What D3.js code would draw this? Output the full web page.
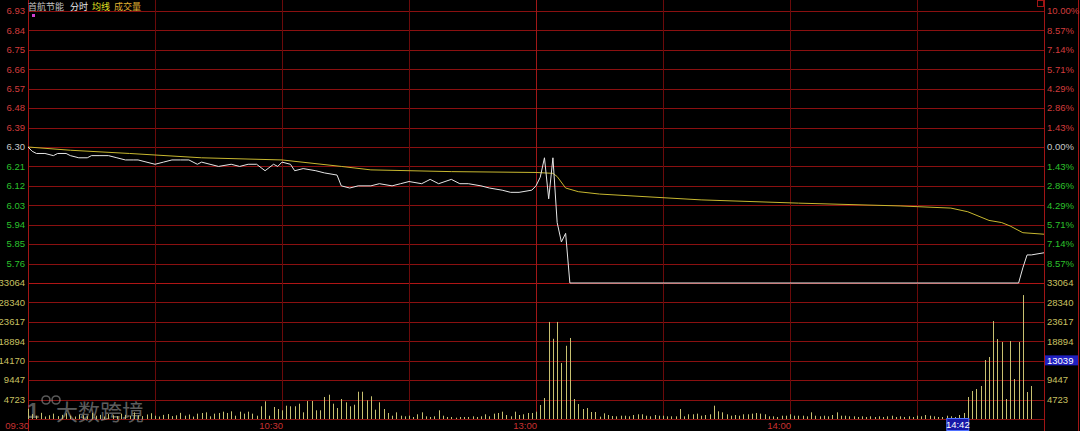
<!DOCTYPE html>
<html>
<head>
<meta charset="utf-8">
<script src="https://cdn.jsdelivr.net/npm/d3@7"></script>
<style>
  body { margin: 0; background: #000; }
  svg { display: block; }
</style>
</head>
<body>
<svg id="chart" width="1080" height="431"></svg>
<script>
// reference close and axis ticks
const prevClose = 6.30;
const priceTicks = [6.93, 6.84, 6.75, 6.66, 6.57, 6.48, 6.39, 6.30, 6.21, 6.12, 6.03, 5.94, 5.85, 5.76];
const pctLabels = ['10.00%', '8.57%', '7.14%', '5.71%', '4.29%', '2.86%', '1.43%', '0.00%',
                   '1.43%', '2.86%', '4.29%', '5.71%', '7.14%', '8.57%'];
const volTicks = [33064, 28340, 23617, 18894, 14170, 9447, 4723];
const timeTickMinutes = [0, 60, 120, 180];
const timeTickLabels = ['09:30', '10:30', '13:00', '14:00'];
const gridMinutes = [30, 60, 90, 120, 150, 180, 210];

// price line (minute index from 09:30, price)
const priceMinutes = [0, 1, 2, 4, 6, 7, 9, 10, 12, 14, 15, 17, 19, 21, 23, 25, 26, 30, 32, 34,
  36, 38, 40, 41, 43, 45, 48, 50, 52, 54, 56, 58, 59, 60, 62, 63, 65, 68, 70, 73,
  74, 76, 78, 81, 83, 86, 88, 90, 93, 95, 97, 100, 102, 104, 107, 109, 112, 114, 116, 119,
  120, 121, 122, 123, 124, 125, 126, 127, 128, 234, 235, 236, 237, 240];
const priceValues = [6.30, 6.28, 6.27, 6.27, 6.26, 6.27, 6.27, 6.26, 6.25, 6.25,
  6.26, 6.26, 6.26, 6.25, 6.24, 6.24, 6.24, 6.22, 6.23, 6.24,
  6.24, 6.24, 6.22, 6.23, 6.22, 6.21, 6.22, 6.21, 6.22, 6.22,
  6.19, 6.22, 6.21, 6.23, 6.22, 6.19, 6.20, 6.19, 6.18, 6.17,
  6.12, 6.11, 6.12, 6.12, 6.13, 6.12, 6.13, 6.14, 6.13, 6.15,
  6.13, 6.15, 6.13, 6.13, 6.12, 6.11, 6.10, 6.09, 6.09, 6.10,
  6.12, 6.16, 6.25, 6.06, 6.25, 5.95, 5.86, 5.90, 5.67, 5.67,
  5.74, 5.80, 5.80, 5.81];

// average price line
const avgMinutes = [0, 10, 24, 41, 60, 74, 81, 100, 120, 124, 125, 127, 130, 135, 159, 182,
  206, 218, 222, 227, 230, 232, 235, 240];
const avgValues = [6.30, 6.285, 6.27, 6.25, 6.24, 6.21, 6.194, 6.186, 6.182, 6.178, 6.163, 6.11,
  6.093, 6.082, 6.055, 6.04, 6.027, 6.017, 6.0, 5.96, 5.95, 5.934, 5.903, 5.896];

// volume per minute, 09:30 .. 15:00
const volumes = [2500,
  1200, 800, 1500, 600, 900, 1300, 700, 1000, 1400, 800,
  600, 1100, 900, 700, 1500, 800, 1000, 600, 1200, 900,
  700, 1300, 1000, 800, 1600, 900, 700, 1100, 1400, 800,
  600, 1000, 1200, 700, 900, 1500, 800, 1100, 600, 1300,
  1460, 1620, 650, 1300, 1460, 1780, 1460, 1870, 800, 1780,
  1300, 1780, 1300, 800, 3090, 4300, 800, 2920, 2430, 2110,
  3230, 3090, 3090, 3720, 1620, 4370, 4370, 2110, 2110, 5350,
  5900, 3720, 2670, 4860, 4060, 3090, 3470, 6630, 6630, 4540,
  5520, 2260, 4060, 2430, 1460, 800, 1620, 800, 650, 800,
  490, 1140, 1620, 650, 490, 650, 2110, 800, 490, 490,
  320, 490, 490, 490, 650, 490, 650, 1140, 650, 1300,
  1460, 1780, 970, 650, 1780, 970, 1140, 1460, 1460, 1780,
  3400, 5100,
  23600, 19500, 23600, 13600, 17800, 19700, 4860, 3640, 2430, 2670, 1700, 1700, 570, 1380, 970, 730, 650,
  800, 800, 650, 970, 1140, 1140, 800, 650, 970, 800,
  800, 650, 650, 650, 2430, 650, 1140, 1140, 1300, 800,
  970, 1140, 3240, 1870, 1620, 1140, 800, 970, 800, 1140,
  1140, 1300, 1460, 1300, 1140, 650, 650, 490, 800, 800,
  1140, 800, 800, 800, 650, 1620, 800, 650, 800, 650,
  970, 1620, 800, 800, 650, 650, 490, 650, 490, 650,
  490, 650, 490, 650, 800, 490, 650, 490, 650, 490,
  800, 650, 970, 800, 650, 490, 490, 800, 650, 490,
  970, 1460, 5350, 6800, 7290, 8020, 14340, 15070, 23810, 19440,
  18710, 4860, 18950, 9720, 18710, 30130, 6560, 8020, 0, 0, 0];

const cursorMinute = 222;
const cursorTime = '14:42';
const cursorVolume = 13039;

const svg = d3.select('#chart');
const left = 28, right = 1044, priceTop = 11, priceBottom = 283, volBottom = 419;
const gridColor = '#8a1010';
const font = 'Liberation Sans, Arial, sans-serif';
const cjk = 'Noto Sans CJK SC, sans-serif';

let x = d3.scaleLinear().domain([0, 240]).range([left, right]);
let yPrice = d3.scaleLinear().domain([5.67, 6.93]).range([priceBottom, priceTop]);
let yVol = d3.scaleLinear().domain([0, 33064]).range([volBottom, priceBottom]);

svg.append('rect').attr('width', 1080).attr('height', 431).attr('fill', '#000');

// horizontal grid
let grid = svg.append('g');
grid.selectAll('.hp')
  .data(priceTicks)
  .enter().append('line')
  .attr('x1', left).attr('x2', right)
  .attr('y1', d => Math.round(yPrice(d)) + 0.5)
  .attr('y2', d => Math.round(yPrice(d)) + 0.5)
  .attr('stroke', gridColor);
grid.selectAll('.hv')
  .data(volTicks.concat([0]))
  .enter().append('line')
  .attr('x1', left).attr('x2', right)
  .attr('y1', d => Math.round(yVol(d)) + 0.5)
  .attr('y2', d => Math.round(yVol(d)) + 0.5)
  .attr('stroke', (d, i) => i === 0 ? '#b01515' : gridColor);

// vertical grid
grid.selectAll('.vg')
  .data(gridMinutes)
  .enter().append('line')
  .attr('x1', d => Math.round(x(d)) + 0.5)
  .attr('x2', d => Math.round(x(d)) + 0.5)
  .attr('y1', 0).attr('y2', volBottom)
  .attr('stroke', d => d === 120 ? '#a01818' : '#6a0a0a');

[left, right, 1078].forEach(px => {
  grid.append('line')
    .attr('x1', px + 0.5).attr('x2', px + 0.5)
    .attr('y1', 0).attr('y2', 431)
    .attr('stroke', '#a01515');
});

// left price labels
let pctColor = d => d > prevClose + 0.001 ? '#d23c3c' : (d < prevClose - 0.001 ? '#2cc02c' : '#c8c8c8');
svg.append('g').selectAll('text')
  .data(priceTicks)
  .enter().append('text')
  .attr('x', left - 3)
  .attr('y', d => yPrice(d))
  .attr('dy', '0.35em')
  .attr('text-anchor', 'end')
  .style('font', `9.5px ${font}`)
  .attr('fill', pctColor)
  .text(d => d.toFixed(2));

// right percentage labels
svg.append('g').selectAll('text')
  .data(priceTicks)
  .enter().append('text')
  .attr('x', right + 3)
  .attr('y', d => yPrice(d))
  .attr('dy', '0.35em')
  .style('font', `9.5px ${font}`)
  .attr('fill', pctColor)
  .text((d, i) => pctLabels[i]);

// volume labels both sides
[[left - 3, 'end'], [right + 3, 'start']].forEach(([px, anchor]) => {
  svg.append('g').selectAll('text')
    .data(volTicks)
    .enter().append('text')
    .attr('x', px)
    .attr('y', d => yVol(d))
    .attr('dy', '0.35em')
    .attr('text-anchor', anchor)
    .style('font', `9.5px ${font}`)
    .attr('fill', '#c8c060')
    .text(d => d);
});

// time labels
svg.append('g').selectAll('text')
  .data(timeTickMinutes)
  .enter().append('text')
  .attr('x', d => x(d) + 1)
  .attr('y', 429)
  .attr('text-anchor', 'end')
  .style('font', `9.5px ${font}`)
  .attr('fill', '#c83232')
  .text((d, i) => timeTickLabels[i]);

// watermark
let wm = svg.append('g').attr('opacity', 0.5);
wm.append('text').attr('x', 27).attr('y', 418)
  .style('font', `bold 22px ${font}`).attr('fill', '#b0b0b0').text('1');
wm.append('circle').attr('cx', 46).attr('cy', 400).attr('r', 4)
  .attr('fill', 'none').attr('stroke', '#b0b0b0').attr('stroke-width', 1.6);
wm.append('circle').attr('cx', 56).attr('cy', 400).attr('r', 4)
  .attr('fill', 'none').attr('stroke', '#b0b0b0').attr('stroke-width', 1.6);
wm.append('text').attr('x', 56).attr('y', 420)
  .style('font', `22px ${cjk}`).attr('fill', '#b8b8b8').text('大数跨境');

// volume bars
svg.append('g').selectAll('line')
  .data(volumes)
  .enter().append('line')
  .attr('x1', (d, i) => Math.round(x(i)) + 0.5)
  .attr('x2', (d, i) => Math.round(x(i)) + 0.5)
  .attr('y1', yVol(0))
  .attr('y2', d => yVol(d))
  .attr('stroke', '#c8c070')
  .attr('stroke-width', 1);

// average line
let line = d3.line().x(d => x(d[0])).y(d => yPrice(d[1]));
svg.append('path')
  .datum(avgMinutes.map((m, i) => [m, avgValues[i]]))
  .attr('d', line)
  .attr('fill', 'none')
  .attr('stroke', '#c8b830')
  .attr('stroke-width', 1);

// price line
svg.append('path')
  .datum(priceMinutes.map((m, i) => [m, priceValues[i]]))
  .attr('d', line)
  .attr('fill', 'none')
  .attr('stroke', '#e6e6e6')
  .attr('stroke-width', 1);

// title
let title = svg.append('text').attr('x', left).attr('y', 10).style('font', `9px ${cjk}`);
title.append('tspan').attr('fill', '#c0c0c0').text('首航节能');
title.append('tspan').attr('dx', 6).attr('fill', '#e8e8e8').text('分时');
title.append('tspan').attr('dx', 4).attr('fill', '#e0e020').text('均线');
title.append('tspan').attr('dx', 4).attr('fill', '#e0b030').text('成交量');

svg.append('rect').attr('x', 32).attr('y', 14).attr('width', 3).attr('height', 3).attr('fill', '#d040d0');
svg.append('rect').attr('x', 1037.5).attr('y', 0.5).attr('width', 6).attr('height', 6)
  .attr('fill', 'none').attr('stroke', '#a01515');

// cursor labels
let cx = x(cursorMinute);
svg.append('rect').attr('x', cx - 21).attr('y', 418.5).attr('width', 22).attr('height', 12)
  .attr('fill', '#1818a8').attr('stroke', '#5070ff');
svg.append('text').attr('x', cx - 10).attr('y', 428).attr('text-anchor', 'middle')
  .style('font', `9.5px ${font}`).attr('fill', '#fff').text(cursorTime);
let cy = yVol(cursorVolume) - 5;
svg.append('rect').attr('x', right + 1).attr('y', cy - 5).attr('width', 33).attr('height', 10)
  .attr('fill', '#2020c0');
svg.append('text').attr('x', right + 3).attr('y', cy).attr('dy', '0.35em')
  .style('font', `9.5px ${font}`).attr('fill', '#fff').text(cursorVolume);
</script>
</body>
</html>
